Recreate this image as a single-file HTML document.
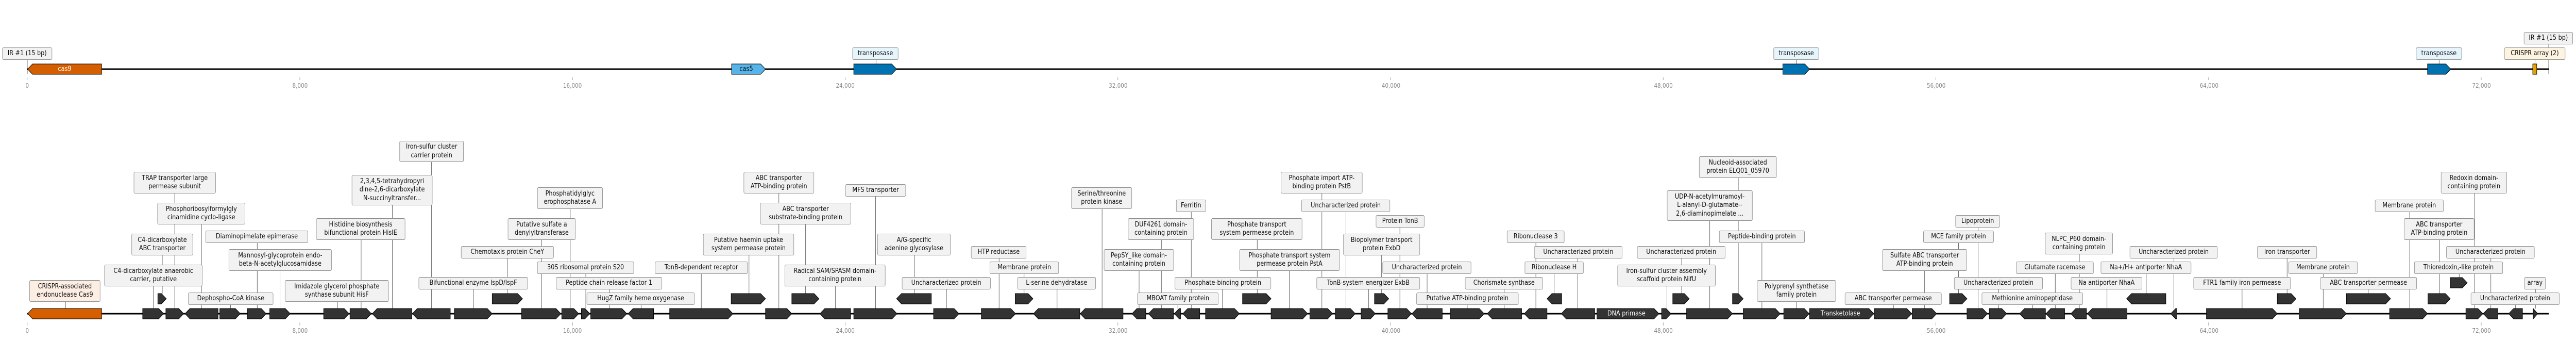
<!DOCTYPE html>
<html><head><meta charset="utf-8">
<meta name="viewport" content="width=5778, initial-scale=1">
<style>
html,body{margin:0;padding:0;background:#fff;overflow:hidden;width:100%;height:100%;}
#wrap{position:absolute;left:0;top:0;width:5778px;height:659px;overflow:hidden;font-family:"DejaVu Sans","Liberation Sans",sans-serif;transform-origin:0 0;}
svg{position:absolute;left:0;top:0;}
.l{position:absolute;box-sizing:border-box;border:1px solid #8f8f8f;border-radius:3px;background:#f2f2f2;color:#111;font-size:13px;line-height:16.5px;white-space:nowrap;display:flex;align-items:center;justify-content:center;text-align:center;overflow:hidden;}
.ax{position:absolute;font-size:12px;color:#888;transform:translateX(-50%);white-space:nowrap;}
.gt{position:absolute;font-size:13px;color:#fff;transform:translate(-50%,-50%);white-space:nowrap;}
</style></head><body><div id="wrap">
<svg id="s" width="5778" height="659" xmlns="http://www.w3.org/2000/svg"></svg>

<div class="l" style="left:5px;top:92px;width:112px;height:24px">IR #1 (15 bp)</div>
<div class="l" style="left:1912px;top:92px;width:103px;height:24px;background:#e6f4fc">transposase</div>
<div class="l" style="left:3978px;top:92px;width:102px;height:24px;background:#e6f4fc">transposase</div>
<div class="l" style="left:5419px;top:92px;width:103px;height:24px;background:#e6f4fc">transposase</div>
<div class="l" style="left:5617px;top:92px;width:137px;height:24px;background:#fdf3e1">CRISPR array (2)</div>
<div class="l" style="left:5661px;top:62px;width:110px;height:24px">IR #1 (15 bp)</div>
<div class="gt" style="left:145px;top:134px">cas9</div>
<div class="gt" style="left:1674px;top:134px;color:#111">cas5</div>

<div class="l" style="left:66px;top:543px;width:159px;height:42px;background:#fdeee4">CRISPR-associated<br>endonuclease Cas9</div>
<div class="l" style="left:300px;top:333px;width:184px;height:42px">TRAP transporter large<br>permease subunit</div>
<div class="l" style="left:353px;top:393px;width:197px;height:42px">Phosphoribosylformylgly<br>cinamidine cyclo-ligase</div>
<div class="l" style="left:295px;top:453px;width:138px;height:42px">C4-dicarboxylate<br>ABC transporter</div>
<div class="l" style="left:234px;top:513px;width:220px;height:42px">C4-dicarboxylate anaerobic<br>carrier, putative</div>
<div class="l" style="left:461px;top:447px;width:230px;height:24px">Diaminopimelate epimerase</div>
<div class="l" style="left:513px;top:483px;width:231px;height:42px">Mannosyl-glycoprotein endo-<br>beta-N-acetylglucosamidase</div>
<div class="l" style="left:422px;top:567px;width:191px;height:24px">Dephospho-CoA kinase</div>
<div class="l" style="left:709px;top:423px;width:200px;height:42px">Histidine biosynthesis<br>bifunctional protein HisIE</div>
<div class="l" style="left:789px;top:339px;width:181px;height:59px">2,3,4,5-tetrahydropyri<br>dine-2,6-dicarboxylate<br>N-succinyltransfer...</div>
<div class="l" style="left:639px;top:543px;width:233px;height:42px">Imidazole glycerol phosphate<br>synthase subunit HisF</div>
<div class="l" style="left:939px;top:537px;width:245px;height:24px">Bifunctional enzyme IspD/IspF</div>
<div class="l" style="left:896px;top:273px;width:144px;height:41px">Iron-sulfur cluster<br>carrier protein</div>
<div class="l" style="left:1034px;top:477px;width:208px;height:24px">Chemotaxis protein CheY</div>
<div class="l" style="left:1139px;top:423px;width:152px;height:42px">Putative sulfate a<br>denylyltransferase</div>
<div class="l" style="left:1205px;top:363px;width:147px;height:42px">Phosphatidylglyc<br>erophosphatase A</div>
<div class="l" style="left:1205px;top:507px;width:217px;height:24px">30S ribosomal protein S20</div>
<div class="l" style="left:1247px;top:537px;width:238px;height:24px">Peptide chain release factor 1</div>
<div class="l" style="left:1316px;top:567px;width:242px;height:24px">HugZ family heme oxygenase</div>
<div class="l" style="left:1469px;top:507px;width:208px;height:24px">TonB-dependent receptor</div>
<div class="l" style="left:1577px;top:453px;width:204px;height:42px">Putative haemin uptake<br>system permease protein</div>
<div class="l" style="left:1668px;top:333px;width:158px;height:42px">ABC transporter<br>ATP-binding protein</div>
<div class="l" style="left:1705px;top:393px;width:204px;height:42px">ABC transporter<br>substrate-binding protein</div>
<div class="l" style="left:1760px;top:513px;width:226px;height:42px">Radical SAM/SPASM domain-<br>containing protein</div>
<div class="l" style="left:1896px;top:357px;width:136px;height:24px">MFS transporter</div>
<div class="l" style="left:1968px;top:453px;width:164px;height:42px">A/G-specific<br>adenine glycosylase</div>
<div class="l" style="left:2023px;top:537px;width:199px;height:24px">Uncharacterized protein</div>
<div class="l" style="left:2178px;top:477px;width:124px;height:24px">HTP reductase</div>
<div class="l" style="left:2220px;top:507px;width:155px;height:24px">Membrane protein</div>
<div class="l" style="left:2282px;top:537px;width:176px;height:24px">L-serine dehydratase</div>
<div class="l" style="left:2403px;top:363px;width:136px;height:42px">Serine/threonine<br>protein kinase</div>
<div class="l" style="left:2476px;top:483px;width:157px;height:42px">PepSY_like domain-<br>containing protein</div>
<div class="l" style="left:2530px;top:423px;width:148px;height:42px">DUF4261 domain-<br>containing protein</div>
<div class="l" style="left:2551px;top:567px;width:182px;height:24px">MBOAT family protein</div>
<div class="l" style="left:2638px;top:387px;width:67px;height:24px">Ferritin</div>
<div class="l" style="left:2635px;top:537px;width:216px;height:24px">Phosphate-binding protein</div>
<div class="l" style="left:2717px;top:423px;width:204px;height:42px">Phosphate transport<br>system permease protein</div>
<div class="l" style="left:2780px;top:483px;width:225px;height:42px">Phosphate transport system<br>permease protein PstA</div>
<div class="l" style="left:2873px;top:333px;width:183px;height:42px">Phosphate import ATP-<br>binding protein PstB</div>
<div class="l" style="left:2919px;top:387px;width:199px;height:24px">Uncharacterized protein</div>
<div class="l" style="left:3086px;top:417px;width:109px;height:24px">Protein TonB</div>
<div class="l" style="left:3013px;top:453px;width:172px;height:42px">Biopolymer transport<br>protein ExbD</div>
<div class="l" style="left:3101px;top:507px;width:199px;height:24px">Uncharacterized protein</div>
<div class="l" style="left:2953px;top:537px;width:232px;height:24px">TonB-system energizer ExbB</div>
<div class="l" style="left:3177px;top:567px;width:229px;height:24px">Putative ATP-binding protein</div>
<div class="l" style="left:3286px;top:537px;width:175px;height:24px">Chorismate synthase</div>
<div class="l" style="left:3380px;top:447px;width:129px;height:24px">Ribonuclease 3</div>
<div class="l" style="left:3441px;top:477px;width:198px;height:24px">Uncharacterized protein</div>
<div class="l" style="left:3420px;top:507px;width:132px;height:24px">Ribonuclease H</div>
<div class="l" style="left:3672px;top:477px;width:198px;height:24px">Uncharacterized protein</div>
<div class="l" style="left:3628px;top:513px;width:220px;height:42px">Iron-sulfur cluster assembly<br>scaffold protein NifU</div>
<div class="l" style="left:3739px;top:369px;width:192px;height:59px">UDP-N-acetylmuramoyl-<br>L-alanyl-D-glutamate--<br>2,6-diaminopimelate ...</div>
<div class="l" style="left:3811px;top:303px;width:174px;height:42px">Nucleoid-associated<br>protein ELQ01_05970</div>
<div class="l" style="left:3856px;top:447px;width:192px;height:24px">Peptide-binding protein</div>
<div class="l" style="left:3941px;top:543px;width:177px;height:42px">Polyprenyl synthetase<br>family protein</div>
<div class="l" style="left:4138px;top:567px;width:217px;height:24px">ABC transporter permease</div>
<div class="l" style="left:4222px;top:483px;width:190px;height:42px">Sulfate ABC transporter<br>ATP-binding protein</div>
<div class="l" style="left:4386px;top:417px;width:100px;height:24px">Lipoprotein</div>
<div class="l" style="left:4314px;top:447px;width:158px;height:24px">MCE family protein</div>
<div class="l" style="left:4383px;top:537px;width:199px;height:24px">Uncharacterized protein</div>
<div class="l" style="left:4445px;top:567px;width:227px;height:24px">Methionine aminopeptidase</div>
<div class="l" style="left:4522px;top:507px;width:174px;height:24px">Glutamate racemase</div>
<div class="l" style="left:4587px;top:451px;width:152px;height:42px">NLPC_P60 domain-<br>containing protein</div>
<div class="l" style="left:4645px;top:537px;width:160px;height:24px">Na antiporter NhaA</div>
<div class="l" style="left:4712px;top:507px;width:203px;height:24px">Na+/H+ antiporter NhaA</div>
<div class="l" style="left:4777px;top:477px;width:197px;height:24px">Uncharacterized protein</div>
<div class="l" style="left:4920px;top:537px;width:218px;height:24px">FTR1 family iron permease</div>
<div class="l" style="left:5063px;top:477px;width:134px;height:24px">Iron transporter</div>
<div class="l" style="left:5133px;top:507px;width:155px;height:24px">Membrane protein</div>
<div class="l" style="left:5204px;top:537px;width:217px;height:24px">ABC transporter permease</div>
<div class="l" style="left:5327px;top:387px;width:154px;height:24px">Membrane protein</div>
<div class="l" style="left:5392px;top:423px;width:158px;height:42px">ABC transporter<br>ATP-binding protein</div>
<div class="l" style="left:5415px;top:507px;width:199px;height:24px">Thioredoxin,-like protein</div>
<div class="l" style="left:5475px;top:333px;width:148px;height:42px">Redoxin domain-<br>containing protein</div>
<div class="l" style="left:5487px;top:477px;width:198px;height:24px">Uncharacterized protein</div>
<div class="l" style="left:5662px;top:537px;width:48px;height:24px">array</div>
<div class="l" style="left:5542px;top:567px;width:199px;height:24px">Uncharacterized protein</div>

<div class="gt" style="left:3648px;top:608px">DNA primase</div>
<div class="gt" style="left:4128px;top:608px">Transketolase</div>

<div class="ax" style="left:61px;top:159px">0</div>
<div class="ax" style="left:673px;top:159px">8,000</div>
<div class="ax" style="left:1284px;top:159px">16,000</div>
<div class="ax" style="left:1896px;top:159px">24,000</div>
<div class="ax" style="left:2508px;top:159px">32,000</div>
<div class="ax" style="left:3120px;top:159px">40,000</div>
<div class="ax" style="left:3731px;top:159px">48,000</div>
<div class="ax" style="left:4343px;top:159px">56,000</div>
<div class="ax" style="left:4955px;top:159px">64,000</div>
<div class="ax" style="left:5566px;top:159px">72,000</div>
<div class="ax" style="left:61px;top:634px">0</div>
<div class="ax" style="left:673px;top:634px">8,000</div>
<div class="ax" style="left:1284px;top:634px">16,000</div>
<div class="ax" style="left:1896px;top:634px">24,000</div>
<div class="ax" style="left:2508px;top:634px">32,000</div>
<div class="ax" style="left:3120px;top:634px">40,000</div>
<div class="ax" style="left:3731px;top:634px">48,000</div>
<div class="ax" style="left:4343px;top:634px">56,000</div>
<div class="ax" style="left:4955px;top:634px">64,000</div>
<div class="ax" style="left:5566px;top:634px">72,000</div>
</div>
<script>
(function(){
var s=document.getElementById('s'),h='';
function line(x1,y1,x2,y2,c,w){h+='<line x1="'+x1+'" y1="'+y1+'" x2="'+x2+'" y2="'+y2+'" stroke="'+c+'" stroke-width="'+w+'"/>';}
function gene(x1,x2,dir,yt,fill){var yb=yt+20,yc=yt+10,w=x2-x1,a=Math.min(11,w),p;
 if(dir=='R')p=[[x1,yt],[x2-a,yt],[x2,yc],[x2-a,yb],[x1,yb]];else p=[[x2,yt],[x1+a,yt],[x1,yc],[x1+a,yb],[x2,yb]];
 h+='<polygon points="'+p.map(function(q){return q.join(',')}).join(' ')+'" fill="'+(fill||'#333')+'" stroke="#000" stroke-width="1"/>';}
for(var k=0;k<10;k++){var x=61+k*611.6;line(x,150,x,155,'#999',1);line(x,625,x,631,'#999',1);}
line(61,134,5717,134,'#000',3);
line(61,116,61,144,'#000',1);
line(5717,86,5717,144,'#000',1);
line(1965,116,1965,124,'#555',1);line(4029,116,4029,124,'#555',1);line(5471,116,5471,124,'#555',1);line(5686,116,5686,124,'#555',1);
gene(62,228,'L',124,'#D55E00');gene(1641,1717,'R',124,'#56B4E9');
gene(1915,2011,'R',124,'#0072B2');gene(3999,4059,'R',124,'#0072B2');gene(5445,5497,'R',124,'#0072B2');
h+='<rect x="5681" y="124" width="9" height="20" fill="#E69F00" stroke="#000"/>';
line(61,608,5717,608,'#000',3);
var RT=[598,569,538];
var L=[[147,585,0],[392,375,0],[452,435,0],[364,495,1],[344,555,0],[577,471,0],[628,525,0],[517,591,0],[810,465,0],[880,398,0],[757,585,0],[1062,561,0],[968,314,0],[1138,501,1],[1215,465,0],[1279,405,0],[1314,531,0],[1367,561,0],[1438,591,0],[1573,531,0],[1680,495,1],[1747,375,0],[1807,435,1],[1874,555,0],[1964,381,0],[2051,495,1],[2123,561,0],[2241,501,0],[2297,531,1],[2371,561,0],[2472,405,0],[2555,525,0],[2605,465,0],[2642,591,0],[2672,411,0],[2742,561,0],[2820,465,1],[2892,525,0],[2965,375,0],[3019,411,0],[3140,441,0],[3099,495,1],[3201,531,0],[3070,561,0],[3291,591,0],[3374,561,0],[3445,471,0],[3539,501,0],[3486,531,1],[3772,501,1],[3739,555,0],[3835,428,0],[3899,345,1],[3952,471,0],[4030,585,0],[4247,591,0],[4317,525,0],[4437,441,0],[4393,471,1],[4483,561,0],[4559,591,0],[4610,531,0],[4664,493,0],[4726,561,0],[4814,531,1],[4876,501,0],[5029,561,0],[5130,501,1],[5211,531,0],[5312,561,1],[5405,411,0],[5472,465,1],[5516,531,2],[5551,375,0],[5587,501,0],[5687,561,0],[5642,591,0]];
L.forEach(function(q){line(q[0],q[1],q[0],RT[q[2]],'#555',1);});
var G0=[[320,367,'R'],[372,412,'R'],[415,489,'L'],[493,539,'R'],[555,597,'R'],[605,651,'R'],[726,783,'R'],[785,833,'R'],[835,924,'L'],[925,1010,'L'],[1019,1104,'R'],[1170,1258,'R'],[1260,1298,'R'],[1304,1323,'R'],[1325,1406,'R'],[1409,1466,'L'],[1502,1644,'R'],[1717,1776,'R'],[1839,1908,'L'],[1915,2012,'R'],[2094,2151,'R'],[2201,2278,'R'],[2318,2422,'L'],[2423,2519,'L'],[2539,2570,'L'],[2576,2632,'L'],[2634,2648,'L'],[2653,2691,'L'],[2704,2780,'R'],[2851,2933,'R'],[2938,2989,'R'],[2995,3040,'R'],[3053,3085,'R'],[3113,3166,'R'],[3167,3235,'L'],[3253,3329,'R'],[3336,3413,'L'],[3419,3470,'L'],[3502,3577,'L'],[3582,3721,'R'],[3727,3748,'R'],[3783,3886,'R'],[3910,3993,'R'],[4001,4058,'R'],[4059,4203,'R'],[4204,4288,'R'],[4289,4344,'R'],[4412,4458,'R'],[4462,4501,'R'],[4530,4588,'L'],[4589,4631,'L'],[4645,4680,'L'],[4682,4771,'L'],[4869,4883,'L'],[4949,5108,'R'],[5157,5263,'R'],[5360,5445,'R'],[5531,5569,'R'],[5570,5603,'L'],[5627,5658,'L'],[5682,5692,'R']];
var G1=[[354,373,'R'],[1104,1172,'R'],[1640,1717,'R'],[1776,1837,'R'],[2011,2089,'L'],[2277,2317,'R'],[2787,2851,'R'],[3083,3115,'R'],[3470,3503,'L'],[3752,3789,'R'],[3886,3910,'R'],[4373,4412,'R'],[4770,4858,'L'],[5108,5150,'R'],[5263,5362,'R'],[5446,5496,'R']];
gene(62,228,'L',598,'#D55E00');
G0.forEach(function(g){gene(g[0],g[1],g[2],598);});
G1.forEach(function(g){gene(g[0],g[1],g[2],569);});
gene(5496,5534,'R',538);
s.innerHTML=h;
function fit(){var w=window.innerWidth||5778,hh=window.innerHeight||659;var sx=w/5778,sy=hh/659;
 document.getElementById('wrap').style.transform=(Math.abs(sx-1)<0.001&&Math.abs(sy-1)<0.001)?'none':'scale('+sx+','+sy+')';}
fit();window.addEventListener('resize',fit);
})();
</script>
</body></html>
